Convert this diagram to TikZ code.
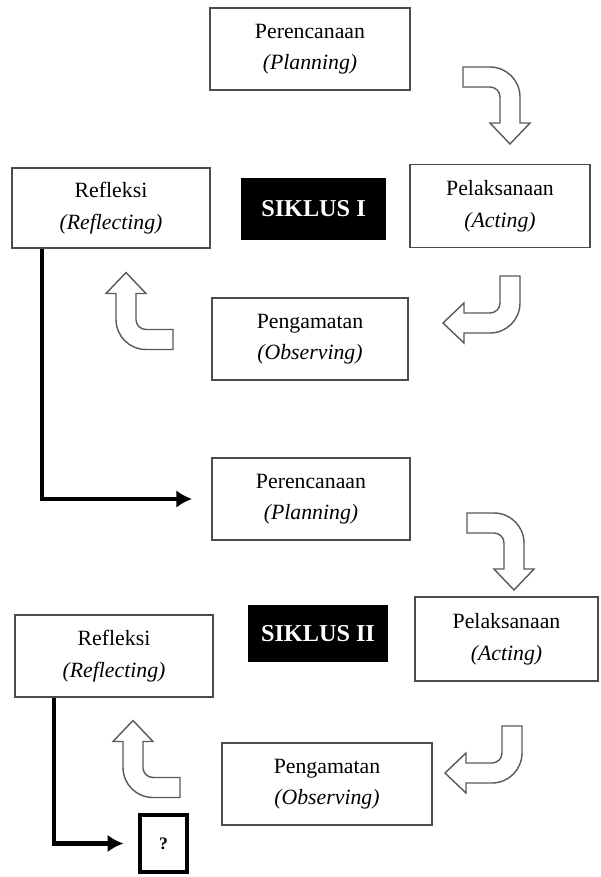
\documentclass[tikz,border=0pt]{standalone}
\usepackage{fontspec}
\setmainfont{Liberation Serif}
\usetikzlibrary{shapes,arrows.meta}

\begin{document}
\begin{tikzpicture}[x=0.02cm,y=-0.02cm,
  stage/.style={draw=black!70, line width=1pt, inner sep=0pt, minimum width=4cm, minimum height=1.64cm, align=center, font=\fontsize{12.4}{18}\selectfont},
  siklus/.style={fill=black, text=white, inner sep=0pt, minimum width=2.9cm, minimum height=1.24cm, font=\fontsize{13.8}{15}\selectfont\bfseries},
  flow/.style={line width=2.3pt, -{Latex[length=9pt,width=10pt]}},
  turnarrow/.pic={
    \draw[black!65, line width=0.8pt] (0,-10) -- (27,-10) .. controls (43.6,-10) and (57,3.4) .. (57,20) -- (57,46) -- (67,46) -- (47,67) -- (27,46) -- (37,46) -- (37,20) .. controls (37,14.5) and (32.5,10) .. (27,10) -- (0,10) -- cycle;
  }
  ]
  \useasboundingbox (0,0) rectangle (600,877);

  % siklus I
  \node[stage] (plan1) at (310,49) {Perencanaan\\\textit{(Planning)}};
  \node[stage, minimum width=3.6cm, minimum height=1.66cm] (act1) at (500,206) {Pelaksanaan\\\textit{(Acting)}};
  \node[stage, minimum width=3.96cm, minimum height=1.6cm] (refl1) at (111,208) {Refleksi\\\textit{(Reflecting)}};
  \node[siklus] (sik1) at (313.5,209) {SIKLUS I};
  \node[stage, minimum width=3.92cm] (obs1) at (310,339) {Pengamatan\\\textit{(Observing)}};

  \pic at (463,77) {turnarrow};
  \pic[rotate=-90] at (510,276) {turnarrow};
  \pic[rotate=180] at (173,339.5) {turnarrow};

  % siklus II
  \node[stage, minimum width=3.96cm] (plan2) at (311,499) {Perencanaan\\\textit{(Planning)}};
  \node[stage, minimum width=3.66cm, minimum height=1.68cm] (act2) at (506.5,639) {Pelaksanaan\\\textit{(Acting)}};
  \node[stage, minimum width=3.96cm] (refl2) at (114,656) {Refleksi\\\textit{(Reflecting)}};
  \node[siklus, minimum width=2.8cm, minimum height=1.14cm] (sik2) at (318,633.5) {SIKLUS II};
  \node[stage, minimum width=4.2cm] (obs2) at (327,784) {Pengamatan\\\textit{(Observing)}};
  \node[draw, line width=1.8pt, inner sep=0pt, minimum width=0.94cm, minimum height=1.14cm, font=\fontsize{10}{12}\selectfont\bfseries] (q) at (163.5,843.5) {?};

  \pic at (467,523) {turnarrow};
  \pic[rotate=-90] at (512,726) {turnarrow};
  \pic[rotate=180] at (180,787.5) {turnarrow};

  % lanjut ke siklus berikutnya
  \draw[flow] ([xshift=0.62cm]refl1.south west) |- ([xshift=-0.38cm]plan2.west);
  \draw[flow] ([xshift=0.8cm]refl2.south west) |- ([xshift=-0.3cm]q.west);
\end{tikzpicture}
\end{document}
